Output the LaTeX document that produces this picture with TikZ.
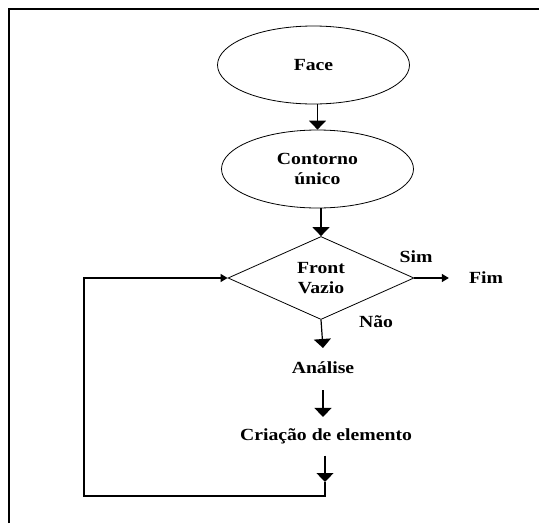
\documentclass[tikz,border=0pt]{standalone}
\usepackage{fontspec}
\setmainfont{Liberation Serif}[FakeStretch=1.16]
\usetikzlibrary{shapes.geometric,arrows.meta}

\begin{document}
\begin{tikzpicture}[x=1pt,y=-1pt,
  every node/.style={font=\bfseries\fontsize{17}{20}\selectfont, inner sep=0pt, align=center},
  oval/.style={ellipse, draw, line width=0.8pt, minimum width=192pt, minimum height=78pt},
  decision/.style={diamond, draw, line width=0.8pt, minimum width=186pt, minimum height=83pt},
  link/.style={line width=1.2pt},
  vtip/.style={link, -{Triangle[width=17pt,length=9pt]}},
  htip/.style={link, -{Triangle[width=8pt,length=7pt]}},
  frame/.style={line width=2pt}]

\useasboundingbox (0,0) rectangle (539,523);

% page frame: top and left rules only
\draw[frame] (8.5,523) -- (8.5,8.5) -- (539,8.5);

% process steps
\node[oval] (face) at (313.5,65) {Face};
\node[oval] (cont) at (317.5,169) {Contorno\\único};
\node[decision] (dec) at (321,278) {Front\\Vazio};
\node (fim) at (486,278) {Fim};
\node (sim) at (416,257) {Sim};
\node (nao) at (376,322) {Não};
\node[anchor=base] (an) at (323,373) {Análise};
\node[anchor=base] (cr) at (326,440) {Criação de elemento};

% loop corners
\coordinate (l1) at (325,482);
\coordinate (l2) at (325,496);
\coordinate (l3) at (84,496);
\coordinate (l4) at (84,278);

% connectors
\draw[vtip] (cont.north |- face.south) -- (cont.north);
\draw[vtip] (dec.north |- cont.south) -- (dec.north);
\draw[htip] (dec.east) -- ([xshift=-20pt]fim.west);
\draw[vtip] (dec.south) -- ([yshift=13pt]an.north);
\draw[vtip] ([yshift=-17pt]an.south) -- ([yshift=11pt]an.south |- cr.north);
\draw[vtip] (l1 |- cr.south) ++(0,12) -- (l1);
\draw[htip] (l1) -- (l2) -- (l3) -- (l4) -- (dec.west);
\end{tikzpicture}
\end{document}
